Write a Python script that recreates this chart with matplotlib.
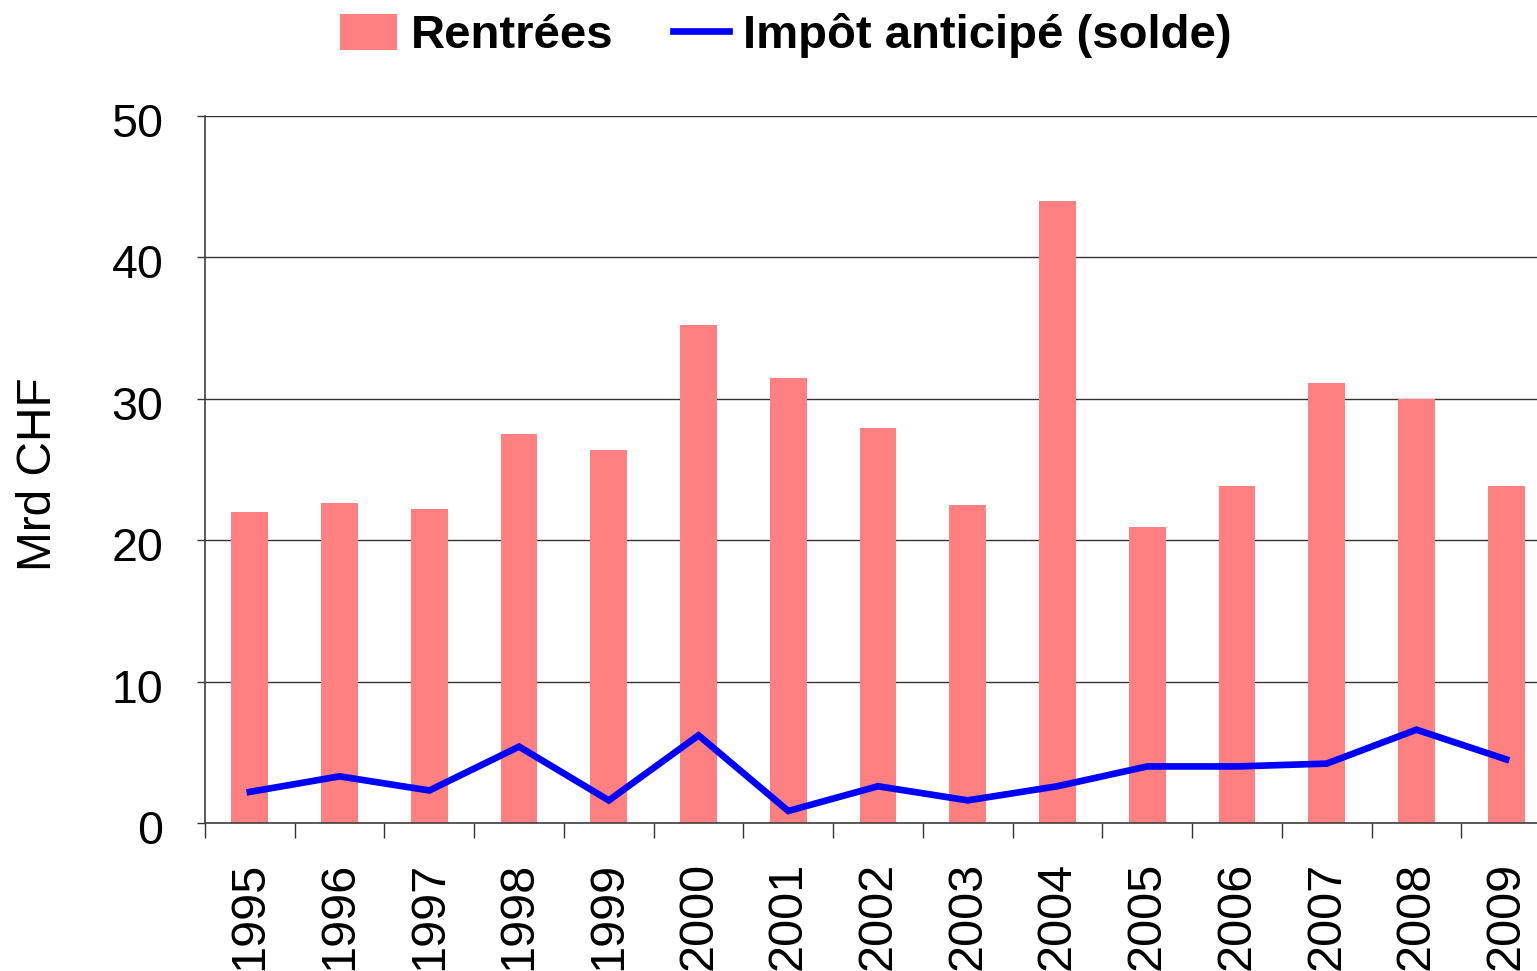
import matplotlib
matplotlib.use("Agg")
import matplotlib.pyplot as plt
from matplotlib.patches import Patch
from matplotlib.lines import Line2D
from matplotlib.transforms import ScaledTranslation
import numpy as np

years = ["1995", "1996", "1997", "1998", "1999", "2000", "2001", "2002",
         "2003", "2004", "2005", "2006", "2007", "2008", "2009"]
rentrees = [22.0, 22.6, 22.2, 27.5, 26.4, 35.2, 31.5, 27.9, 22.5, 44.0,
            20.9, 23.8, 31.1, 30.0, 23.8]
impot_solde = [2.2, 3.3, 2.3, 5.4, 1.6, 6.2, 0.85, 2.6, 1.6, 2.6,
               4.0, 4.0, 4.2, 6.6, 4.5]
yticks = [0, 10, 20, 30, 40, 50]

plt.rcParams['font.family'] = ['Liberation Sans', 'DejaVu Sans']

W, H = 1537, 971
fig = plt.figure(figsize=(W / 100, H / 100), dpi=100)
ax = fig.add_axes([205 / W, 1 - 823 / H, 1346 / W, (823 - 116) / H])

x = np.arange(len(years))
ax.bar(x, rentrees, width=0.41, color='#FF8080', zorder=2)
ax.plot(x, impot_solde, color='#0000FF', lw=4.8, zorder=3,
        solid_joinstyle='miter')

ax.set_xlim(-0.5, len(years) - 0.5)
ax.set_ylim(0, 50)
ax.set_yticks(yticks)
ax.set_yticklabels([str(v) for v in yticks], fontsize=33.5)
ax.yaxis.grid(True, color='#333333', lw=1.0, zorder=1)
ax.set_axisbelow(True)

ax.set_xticks(x)
ax.set_xticklabels(years, rotation=90, fontsize=35, va='top')
ax.set_xticks(np.arange(-0.5, len(years), 1.0), minor=True)
ax.tick_params(axis='x', which='major', length=0, pad=28)
ax.tick_params(axis='x', which='minor', length=11, width=1, color='#333333', direction='out')
ax.tick_params(axis='y', which='major', length=6, width=1, color='#333333', pad=24)

shift = ScaledTranslation(0, -4 / 100, fig.dpi_scale_trans)
for lbl in ax.get_yticklabels():
    lbl.set_transform(lbl.get_transform() + shift)

for s in ['top', 'right']:
    ax.spines[s].set_visible(False)
ax.spines['left'].set_color('#404040')
ax.spines['bottom'].set_color('#404040')
ax.spines['left'].set_linewidth(1.2)
ax.spines['bottom'].set_linewidth(1.2)

fig.text(39 / W, 1 - 474 / H, 'Mrd CHF', rotation=90, fontsize=34.5,
         ha='center', va='center')

handles = [Patch(facecolor='#FF8080', edgecolor='none'),
           Line2D([0], [0], color='#0000FF', lw=4.8)]
fig.legend(handles, ['Rentrées', 'Impôt anticipé (solde)'], ncol=2,
           loc='center', bbox_to_anchor=(786 / W, 1 - 36 / H),
           frameon=False, prop={'size': 34, 'weight': 'bold'},
           handlelength=1.2, handleheight=0.8, handletextpad=0.3,
           columnspacing=1.25, borderpad=0, borderaxespad=0)

fig.savefig('out.png', dpi=100)
